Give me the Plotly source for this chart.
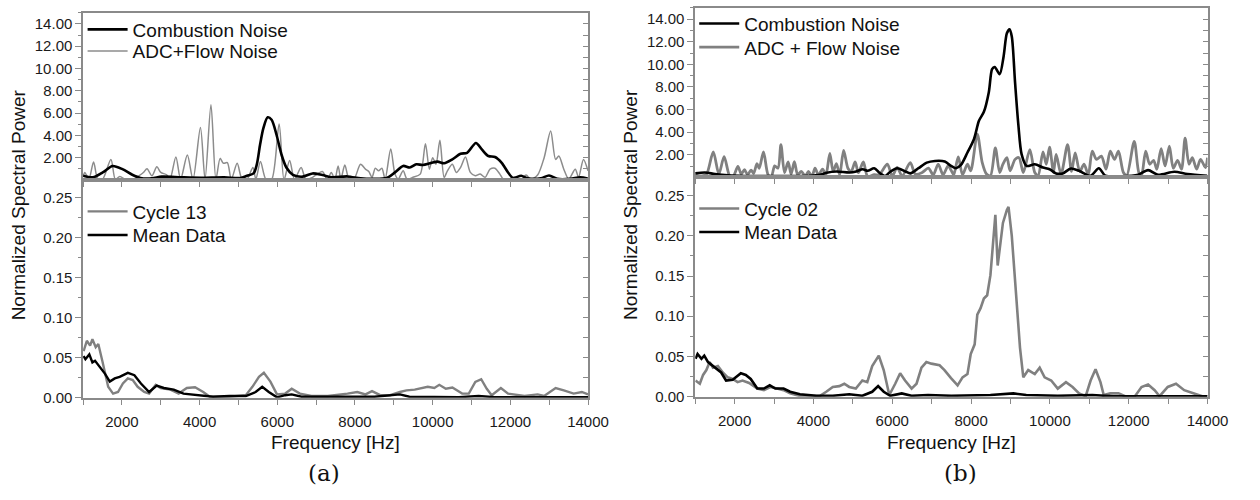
import plotly.graph_objects as go

# ---------------- DATA ----------------
# (a) top: Combustion Noise
a_comb_f = [1000,1253,1506,1760,2013,2266,2477,2772,3026,3532,4038,4629,5050,5220,5389,5473,5558,5642,5752,5853,5980,6106,6233,6402,6655,6908,7161,7414,7806,8143,8481,8818,9030,9240,9409,9578,9747,9958,10127,10295,10506,10717,10886,11114,11266,11435,11604,11772,11941,12068,12279,12448,12785,12996,13207,13545,13798,14000]
a_comb_v = [0.38,0.24,0.68,1.26,0.97,0.47,0.18,0.15,0.3,0.24,0.2,0.24,0.18,0.38,0.59,1.4,3.2,4.65,5.62,5.4,4.06,2.3,1.12,0.47,0.3,0.59,0.44,0.24,0.32,0.15,0.1,0.18,0.68,1.26,1.12,1.41,1.35,1.53,1.65,1.5,1.85,2.35,2.44,3.32,2.74,2.15,2.06,1.56,0.68,0.18,0.38,0.15,0.15,0.41,0.1,0.1,0.24,0.12]

# (a) top: ADC+Flow Noise
a_adc_f = [1000,1042,1150,1270,1380,1500,1717,1830,1945,2100,2300,2477,2560,2646,2772,2899,3000,3152,3236,3389,3510,3684,3830,4021,4140,4292,4420,4528,4612,4714,4815,4967,5094,5220,5372,5448,5566,5710,5853,6047,6173,6317,6443,6613,6740,6908,7161,7287,7389,7482,7566,7637,7738,7848,7975,8143,8270,8355,8439,8523,8608,8692,8776,8920,9030,9114,9240,9340,9494,9679,9814,9915,10000,10085,10186,10295,10380,10506,10608,10717,10844,10970,11097,11224,11350,11477,11604,11730,11815,11950,12110,12279,12405,12532,12701,12870,13038,13165,13249,13376,13503,13671,13756,13882,14000]
a_adc_v = [0.3,0.68,0.1,1.62,0.06,0.05,1.85,0.06,0.32,0.03,0.05,0.47,0.7,1.0,0.38,1.18,0.68,0.47,0.06,2.06,0.06,2.24,0.06,4.7,0.06,6.76,0.06,1.94,1.5,1.56,0.06,1.5,0.06,0.06,1.12,0.06,1.65,0.03,0.03,5.03,0.03,1.76,0.06,1.12,0.03,0.24,0.76,0.03,0.68,0.06,1.26,0.09,1.35,0.09,0.09,1.41,0.97,0.76,0.24,1.06,0.82,1.06,0.09,2.79,0.53,0.09,0.82,0.09,0.24,0.53,3.26,0.97,2.0,1.41,3.56,0.24,0.82,1.41,0.68,1.12,2.06,0.68,0.38,0.53,0.24,0.97,1.06,0.53,0.09,0.06,0.24,0.06,0.44,0.06,0.44,2.0,4.4,1.85,2.15,0.97,0.09,0.97,0.24,1.85,0.82]

# (a) bottom: Cycle 13
a_cyc_f = [1013,1097,1181,1240,1325,1392,1494,1561,1646,1772,1899,2025,2152,2278,2405,2574,2700,2869,2996,3249,3460,3671,3882,4093,4262,4768,5190,5359,5528,5654,5823,5992,6203,6371,6582,6878,7300,7806,8059,8270,8439,8650,8904,9157,9326,9537,9706,9874,10043,10170,10339,10508,10760,10930,11098,11250,11393,11520,11756,11942,12364,12702,12870,13166,13377,13630,13841,14000]
a_cyc_v = [0.058,0.071,0.065,0.073,0.063,0.067,0.046,0.030,0.0135,0.005,0.007,0.0176,0.024,0.022,0.0135,0.007,0.005,0.016,0.012,0.01,0.005,0.012,0.013,0.007,0.001,0.001,0.003,0.0135,0.026,0.031,0.02,0.004,0.005,0.011,0.005,0.002,0.002,0.005,0.007,0.004,0.008,0.003,0.003,0.007,0.009,0.01,0.012,0.0136,0.012,0.016,0.011,0.0125,0.005,0.005,0.0195,0.023,0.011,0.003,0.012,0.005,0.002,0.004,0.002,0.012,0.009,0.005,0.007,0.004]

# (a) bottom: Mean Data
a_mean_f = [1013,1060,1160,1240,1308,1430,1561,1688,1815,1941,2152,2321,2489,2700,2895,3080,3333,3586,3924,4346,4768,5190,5443,5612,5781,5992,6203,6371,6624,7300,8500,9157,9400,10676,11183,11600,14000]
a_mean_v = [0.052,0.048,0.054,0.044,0.046,0.038,0.030,0.02,0.024,0.026,0.031,0.028,0.0176,0.007,0.015,0.012,0.01,0.005,0.003,0.001,0.002,0.002,0.007,0.0135,0.007,0.0003,0.003,0.004,0.001,0.001,0.001,0.004,0.001,0.0005,0.002,0.0005,0.0005]

# (b) top: Combustion Noise
b_comb_f = [1000,1250,1500,1833,2250,3083,3916,4166,4333,4583,4916,5083,5250,5375,5541,5666,5815,5958,6125,6333,6458,6666,6875,7083,7333,7492,7617,7742,7908,8075,8200,8325,8450,8533,8600,8725,8825,8908,8975,9033,9116,9200,9283,9408,9616,9825,9991,10158,10325,10533,10741,11033,11241,11408,11825,12241,12491,12741,13158,13491,13991]
b_comb_v = [0.35,0.43,0.29,0.17,0.12,0.12,0.14,0.23,0.41,0.52,0.43,0.52,0.72,0.58,0.81,0.43,0.12,0.52,0.81,0.52,0.35,0.81,1.3,1.45,1.4,1.01,0.81,1.1,2.2,3.4,5.0,5.8,7.54,9.57,9.77,9.13,10.7,12.75,13.1,12.46,8.4,4.64,2.03,1.01,1.16,0.87,0.72,0.35,0.35,0.78,0.58,0.14,0.81,0.14,0.09,0.23,0.64,0.23,0.49,0.29,0.14]

# (b) top: ADC + Flow Noise
b_adc_f = [1000,1170,1290,1458,1600,1733,1875,1960,2083,2170,2250,2330,2416,2483,2566,2625,2733,2850,2933,3016,3100,3175,3266,3358,3433,3516,3600,3691,3791,3875,3958,4041,4125,4233,4316,4416,4500,4583,4666,4766,4875,4958,5058,5141,5266,5375,5541,5666,5875,6000,6125,6250,6458,6583,6750,6916,7041,7166,7291,7416,7500,7560,7675,7783,7908,7991,8158,8283,8391,8491,8616,8725,8808,8908,8991,9116,9216,9325,9491,9616,9700,9825,9908,9991,10091,10158,10283,10449,10549,10641,10758,10866,10974,11074,11182,11307,11424,11532,11640,11740,11865,11949,12140,12256,12323,12431,12531,12631,12714,12823,12923,13031,13131,13240,13340,13431,13531,13615,13723,13823,13948,14000]
b_adc_v = [0.23,0.12,0.3,2.26,0.29,1.83,0.12,0.06,0.96,0.29,0.67,0.23,0.64,0.35,1.22,0.8,2.26,0.23,0.09,1.01,0.81,2.9,0.43,1.36,0.29,1.39,0.23,0.52,0.12,0.52,0.06,0.81,0.23,0.72,0.23,2.12,0.52,1.22,0.23,2.38,0.81,0.52,1.36,0.41,1.36,0.09,0.23,0.23,1.16,0.12,0.87,0.12,1.3,0.29,0.41,0.81,0.23,1.16,0.23,1.01,0.58,0.23,1.8,0.23,1.16,0.58,3.83,1.3,0.29,0.14,2.6,0.43,1.16,1.74,0.58,1.59,1.74,0.43,2.46,0.43,0.14,2.26,1.16,2.67,0.43,2.03,0.29,2.9,0.52,2.17,0.52,1.16,0.23,2.32,1.59,1.88,0.72,2.32,1.59,2.32,0.43,0.14,3.19,0.43,0.14,2.32,1.16,1.51,0.72,2.55,1.01,2.75,0.81,1.51,0.72,3.48,1.16,1.74,0.72,1.59,0.87,1.74]

# (b) bottom: Cycle 02
b_cyc_f = [1008,1117,1200,1283,1367,1450,1575,1700,1825,1950,2075,2200,2367,2575,2742,2908,3075,3242,3408,3658,3908,4158,4325,4491,4658,4783,4908,5075,5241,5366,5491,5658,5783,5925,6075,6200,6325,6491,6616,6741,6866,6992,7200,7325,7491,7658,7783,7908,7991,8091,8158,8241,8325,8408,8491,8575,8616,8675,8741,8808,8908,8950,9033,9116,9241,9325,9450,9616,9741,9866,10033,10200,10408,10575,10741,10908,11033,11158,11283,11366,11533,11741,11908,12158,12325,12491,12658,12783,12991,13200,13408,13658,13866,14000]
b_cyc_v = [0.020,0.016,0.027,0.033,0.043,0.036,0.038,0.030,0.024,0.022,0.018,0.020,0.017,0.010,0.008,0.012,0.01,0.008,0.004,0.0007,0.0007,0.0007,0.006,0.012,0.013,0.016,0.012,0.01,0.020,0.018,0.038,0.051,0.033,0.002,0.016,0.029,0.020,0.01,0.016,0.036,0.043,0.041,0.039,0.033,0.023,0.014,0.024,0.028,0.053,0.065,0.102,0.110,0.122,0.126,0.151,0.208,0.226,0.163,0.188,0.216,0.232,0.236,0.200,0.147,0.061,0.024,0.033,0.028,0.036,0.024,0.020,0.010,0.018,0.012,0.004,0.0005,0.020,0.034,0.018,0.002,0.004,0.004,0.0005,0.0005,0.012,0.015,0.008,0.0005,0.012,0.016,0.008,0.004,0.0005,0.0003]

# (b) bottom: Mean Data
b_mean_f = [1008,1060,1158,1230,1325,1492,1658,1783,1950,2158,2283,2408,2575,2742,2891,3033,3242,3408,3658,4075,4491,4908,5241,5491,5641,5783,5950,6241,6491,6908,7500,8491,9075,9400,10200,11075,11600,14000]
b_mean_v = [0.047,0.053,0.047,0.051,0.043,0.036,0.030,0.020,0.021,0.029,0.027,0.022,0.010,0.010,0.014,0.01,0.01,0.006,0.003,0.001,0.001,0.003,0.001,0.006,0.013,0.006,0.001,0.004,0.001,0.002,0.001,0.002,0.004,0.002,0.001,0.002,0.0003,0.0003]

x_tickvals = [2000, 4000, 6000, 8000, 10000, 12000, 14000]
top_tickvals = [2, 4, 6, 8, 10, 12, 14]
bot_tickvals = [0.0, 0.05, 0.10, 0.15, 0.20, 0.25]

# ---------------- STYLE / LAYOUT ----------------
W, H = 1260, 500
FONT = "Liberation Sans, Arial, sans-serif"
AX = "#8a8a8a"
GRAY = "#808080"
BLACK = "#000000"

fig = go.Figure()

def add(xs, ys, name, color, width, xa, ya, leg, shape="spline"):
    line = dict(color=color, width=width)
    if shape == "spline":
        line.update(shape="spline", smoothing=0.8)
    fig.add_trace(go.Scatter(x=xs, y=ys, name=name, mode="lines", line=line,
                             xaxis=xa, yaxis=ya, legend=leg))

add(a_adc_f, a_adc_v, "ADC+Flow Noise", "#8c8c8c", 1.5, "x", "y", "legend2")
add(a_comb_f, a_comb_v, "Combustion Noise", BLACK, 2.6, "x", "y", "legend")
add(a_cyc_f, a_cyc_v, "Cycle 13", GRAY, 2.4, "x2", "y2", "legend3", "linear")
add(a_mean_f, a_mean_v, "Mean Data", BLACK, 2.4, "x2", "y2", "legend4", "linear")
add(b_adc_f, b_adc_v, "ADC + Flow Noise", GRAY, 2.8, "x3", "y3", "legend6")
add(b_comb_f, b_comb_v, "Combustion Noise", BLACK, 2.6, "x3", "y3", "legend5")
add(b_cyc_f, b_cyc_v, "Cycle 02", GRAY, 2.6, "x4", "y4", "legend7", "linear")
add(b_mean_f, b_mean_v, "Mean Data", BLACK, 2.6, "x4", "y4", "legend8", "linear")

# empty helper traces so the right-side inward tick axes are drawn
for xa, ya in [("x", "y5"), ("x2", "y6"), ("x3", "y7"), ("x4", "y8")]:
    fig.add_trace(go.Scatter(x=[], y=[], xaxis=xa, yaxis=ya, showlegend=False, hoverinfo="skip"))

dA_x = [84.5 / W, 598 / W]
dA_top = [1 - 182.7 / H, 1 - 13 / H]
dA_bot = [1 - 404.3 / H, 1 - 182.7 / H]
dB_x = [707 / W, 1228 / W]
dB_top = [1 - 180 / H, 1 - 8 / H]
dB_bot = [1 - 403.3 / H, 1 - 180 / H]

tickfont = dict(family=FONT, size=15, color="#1a1a1a")

def xax(dom, anchor, labels):
    d = dict(domain=dom, anchor=anchor, range=[1000, 14000], showline=True, linecolor=AX,
             linewidth=1.5, mirror=True, showgrid=False, zeroline=False,
             ticks="outside", ticklen=5, tickcolor=AX, tickwidth=1.2, tickfont=tickfont)
    if labels:
        d.update(tickmode="array", tickvals=x_tickvals, tickformat="d",
                 minor=dict(ticks="outside", dtick=1000, tick0=0, ticklen=5, tickcolor=AX, tickwidth=1.2),
                 ticklabelstandoff=4)
    else:
        d.update(showticklabels=False, dtick=1000, tick0=0)
    return d

def yax(dom, anchor, rng, tickvals, minor_dtick):
    return dict(domain=dom, anchor=anchor, range=rng, showline=True, linecolor=AX, linewidth=1.5,
                mirror=True, showgrid=False, zeroline=False, ticks="outside", ticklen=6,
                tickcolor=AX, tickwidth=1.2, tickmode="array", tickvals=tickvals, tickformat=".2f",
                tickfont=tickfont,
                minor=dict(ticks="outside", dtick=minor_dtick, tick0=0, ticklen=3, tickcolor=AX, tickwidth=1.2))

def yright(over, anchor, rng, dtick):
    return dict(overlaying=over, anchor=anchor, side="right", range=rng, showline=False,
                showgrid=False, zeroline=False, ticks="inside", ticklen=5, tickcolor=AX, tickwidth=1.2,
                dtick=dtick, tick0=0, showticklabels=False)

TOP_R = [0.02, 15]
BOT_RA = [-0.0003, 0.2723]
BOT_RB = [-0.0003, 0.2730]

def leg(xpx, ypx):
    # one legend per entry, placed by the centre of its row
    return dict(x=xpx / W, y=1 - ypx / H, xanchor="left", yanchor="middle", bgcolor="rgba(0,0,0,0)",
                font=dict(family=FONT, size=19, color="#111"), itemwidth=40)

fig.update_layout(
    width=W, height=H, autosize=False, margin=dict(l=0, r=0, t=0, b=0),
    paper_bgcolor="white", plot_bgcolor="white", showlegend=True,
    xaxis=xax(dA_x, "y", False), yaxis=yax(dA_top, "x", TOP_R, top_tickvals, 1),
    xaxis2=xax(dA_x, "y2", True), yaxis2=yax(dA_bot, "x2", BOT_RA, bot_tickvals, 0.025),
    xaxis3=xax(dB_x, "y3", False), yaxis3=yax(dB_top, "x3", TOP_R, top_tickvals, 1),
    xaxis4=xax(dB_x, "y4", True), yaxis4=yax(dB_bot, "x4", BOT_RB, bot_tickvals, 0.025),
    yaxis5=yright("y", "x", TOP_R, 1), yaxis6=yright("y2", "x2", BOT_RA, 0.025),
    yaxis7=yright("y3", "x3", TOP_R, 1), yaxis8=yright("y4", "x4", BOT_RB, 0.025),
    legend=leg(84, 30), legend2=leg(84, 52),
    legend3=leg(84, 215), legend4=leg(84, 239),
    legend5=leg(706, 24), legend6=leg(706, 48),
    legend7=leg(706, 212), legend8=leg(706, 236),
)

title_font = dict(family=FONT, size=19, color="#111")
ann = []
for xc in [19, 641]:
    ann.append(dict(text="Normalized Spectral Power", x=xc / W, y=1 - 208 / H, xref="paper", yref="paper",
                    textangle=-90, showarrow=False, font=title_font, xanchor="center", yanchor="middle"))
for xc in [341, 967.5]:
    ann.append(dict(text="Frequency [Hz]", x=xc / W, y=1 - 450 / H, xref="paper", yref="paper",
                    showarrow=False, font=title_font, xanchor="center", yanchor="middle"))
for xc, t in [(329, "(a)"), (977, "(b)")]:
    ann.append(dict(text=t, x=xc / W, y=1 - 481 / H, xref="paper", yref="paper", showarrow=False,
                    font=dict(family="DejaVu Serif, Liberation Serif, serif", size=23, color="#111"),
                    xanchor="center", yanchor="middle"))
fig.update_layout(annotations=ann)

fig.write_html("out.html", post_script="document.body.style.margin='0px';",
               config={"displayModeBar": False})
